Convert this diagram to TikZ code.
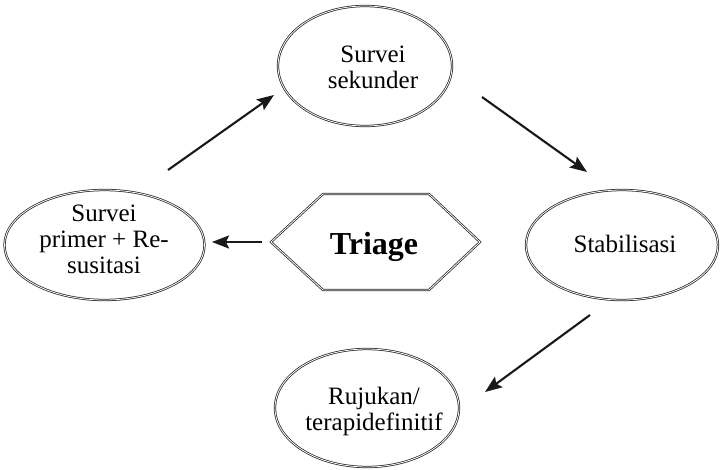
\documentclass[tikz,border=0pt]{standalone}
\usepackage{fontspec}
\setmainfont{Liberation Serif}
\usetikzlibrary{shapes.geometric,arrows.meta}

\tikzset{
  stage/.style={ellipse, draw=black!85, line width=0.75pt, double=white,
    double distance=0.8pt, inner sep=0pt},
  stagetext/.style={inner sep=0pt, align=center,
    font=\fontsize{25}{26}\selectfont},
  flow/.style={line width=2.1pt, black!90,
    -{Stealth[length=17pt,width=13pt,inset=3pt]}},
  hexline/.style={draw=black!85, line width=0.75pt, double=white,
    double distance=0.8pt, line join=miter}
}

\begin{document}
\begin{tikzpicture}[x=1pt,y=-1pt]
\useasboundingbox (0,0) rectangle (720,469);

% stages of the cycle (outline, then label)
\node[stage, minimum width=174pt, minimum height=120pt] (sekunder) at (365,66) {};
\node[stagetext] (sekunderT) at (373,67.5) {Survei\\sekunder};

\node[stage, minimum width=200pt, minimum height=110pt] (primer) at (104.5,245) {};
\node[stagetext] (primerT) at (104,239.5)
  {Survei\\primer + Re-\hspace*{20pt}\\susitasi};

\node[stage, minimum width=192pt, minimum height=110pt] (stabil) at (622,245) {};
\node[stagetext] (stabilT) at (625,243.5) {Stabilisasi};

\node[stage, minimum width=184pt, minimum height=118pt] (rujukan) at (367,408) {};
\node[stagetext] (rujukanT) at (374,411) {Rujukan/\\terapidefinitif};

% central triage hexagon
\draw[hexline] (271,242) -- (323,194) -- (429,194) -- (480,242)
  -- (429,290) -- (323,290) -- cycle;
\node[font=\fontsize{32}{36}\selectfont\bfseries, anchor=base] (triage)
  at (374,254) {Triage};

% arrow end points
\coordinate (a1s) at (168,170);  \coordinate (a1e) at (274,95);
\coordinate (a2s) at (482,97);   \coordinate (a2e) at (587,172);
\coordinate (a3s) at (590,315);  \coordinate (a3e) at (485,392);
\coordinate (a4s) at (262,242);  \coordinate (a4e) at (212,242);

\draw[flow] (a1s) -- (a1e);
\draw[flow] (a2s) -- (a2e);
\draw[flow] (a3s) -- (a3e);
\draw[flow] (a4s) -- (a4e);
\end{tikzpicture}
\end{document}
